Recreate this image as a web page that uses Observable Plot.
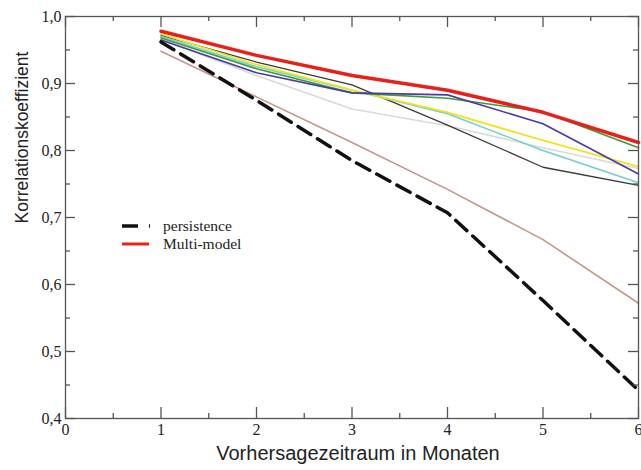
<!DOCTYPE html>
<html>
<head>
<meta charset="utf-8">
<script src="https://cdn.jsdelivr.net/npm/d3@7"></script>
<script src="https://cdn.jsdelivr.net/npm/@observablehq/plot@0.6"></script>
<style>
  html, body { margin: 0; padding: 0; background: #fff; }
  #wrap { position: relative; width: 641px; height: 470px; }
  #legend { position: absolute; left: 122px; top: 217px; font-family: "Liberation Serif", serif; font-size: 15.5px; color: #222; }
  #legend .row { display: flex; align-items: center; height: 18px; }
  #legend svg { margin-right: 13px; }
</style>
</head>
<body>
<div id="wrap"><div id="legend"></div></div>
<script>
const months = [1, 2, 3, 4, 5, 6];
const persistence = [0.962, 0.875, 0.785, 0.707, 0.576, 0.442];
const multiModel  = [0.978, 0.942, 0.912, 0.890, 0.857, 0.812];
const brownModel  = [0.948, 0.880, 0.812, 0.742, 0.667, 0.572];
const lightGrayModel = [0.966, 0.912, 0.862, 0.837, 0.804, 0.773];
const darkGrayModel  = [0.972, 0.932, 0.898, 0.838, 0.775, 0.748];
const blueModel   = [0.965, 0.916, 0.886, 0.883, 0.840, 0.765];
const greenModel  = [0.968, 0.922, 0.886, 0.878, 0.858, 0.804];
const yellowModel = [0.974, 0.928, 0.890, 0.857, 0.815, 0.776];
const cyanModel   = [0.970, 0.925, 0.890, 0.855, 0.800, 0.752];

const xMajor = [0, 1, 2, 3, 4, 5, 6];
const xMinor = [0.5, 1.5, 2.5, 3.5, 4.5, 5.5];
const yMajor = [0.4, 0.5, 0.6, 0.7, 0.8, 0.9, 1.0];
const yMinor = [0.45, 0.55, 0.65, 0.75, 0.85, 0.95];
const legendLabels = ["persistence", "Multi-model"];

const W = 641, H = 470;
const mt = 16, mr = 3, mb = 52, ml = 65;
const innerW = W - ml - mr, innerH = H - mt - mb;
const fmt = d => d.toFixed(1).replace(".", ",");
const pts = arr => months.map((m, i) => ({x: m, y: arr[i]}));

const series = [
  {v: lightGrayModel, c: "#d9d9d9", w: 1.6},
  {v: brownModel, c: "#c4958d", w: 1.6},
  {v: darkGrayModel, c: "#3a3a3a", w: 1.3},
  {v: cyanModel, c: "#72cfd0", w: 1.6},
  {v: yellowModel, c: "#f2e21c", w: 1.8},
  {v: greenModel, c: "#3d9c36", w: 1.6},
  {v: blueModel, c: "#4a3aa8", w: 1.6},
];

const tickStroke = "#555";
const plot = Plot.plot({
  width: W, height: H,
  marginTop: mt, marginRight: mr, marginBottom: mb, marginLeft: ml,
  x: {domain: [0, 6]},
  y: {domain: [0.4, 1.0]},
  style: {fontFamily: "'Liberation Serif', serif", fontSize: "16px", color: "#222", background: "#fff"},
  marks: [
    ...series.map(s => Plot.line(pts(s.v), {x: "x", y: "y", stroke: s.c, strokeWidth: s.w})),
    Plot.line(pts(multiModel), {x: "x", y: "y", stroke: "#e8201a", strokeWidth: 3.5}),
    Plot.line(pts(persistence), {x: "x", y: "y", stroke: "#111", strokeWidth: 3.5, strokeDasharray: "15,8"}),
    Plot.frame({stroke: tickStroke, strokeWidth: 1.3}),
    Plot.tickY(yMajor, {insetRight: innerW - 10, stroke: tickStroke, strokeWidth: 1.3}),
    Plot.tickY(yMinor, {insetRight: innerW - 5, stroke: tickStroke, strokeWidth: 1.3}),
    Plot.tickY(yMajor, {insetLeft: innerW - 10, stroke: tickStroke, strokeWidth: 1.3}),
    Plot.tickY(yMinor, {insetLeft: innerW - 5, stroke: tickStroke, strokeWidth: 1.3}),
    Plot.tickX(xMajor, {insetTop: innerH - 11, stroke: tickStroke, strokeWidth: 1.3}),
    Plot.tickX(xMinor, {insetTop: innerH - 5, stroke: tickStroke, strokeWidth: 1.3}),
    Plot.tickX(xMajor, {insetBottom: innerH - 11, stroke: tickStroke, strokeWidth: 1.3}),
    Plot.tickX(xMinor, {insetBottom: innerH - 5, stroke: tickStroke, strokeWidth: 1.3}),
    Plot.axisY(yMajor, {tickSize: 0, tickPadding: 4, tickFormat: fmt, label: null}),
    Plot.axisX(xMajor, {tickSize: 0, tickPadding: 5, tickFormat: d => String(d), label: null}),
    Plot.text(["Korrelationskoeffizient"], {frameAnchor: "left", dx: -43, dy: 6, rotate: -90, fontFamily: "'Liberation Sans', Arial, sans-serif", fontSize: 17.5, fill: "#222"}),
    Plot.text(["Vorhersagezeitraum in Monaten"], {frameAnchor: "bottom", dx: 6, dy: 41, fontFamily: "'Liberation Sans', Arial, sans-serif", fontSize: 20, fill: "#222"})
  ]
});
const wrap = document.getElementById("wrap");
wrap.insertBefore(plot, wrap.firstChild);

const legend = document.getElementById("legend");
const swatches = [
  `<svg width="28" height="10"><line x1="0" y1="5" x2="28" y2="5" stroke="#111" stroke-width="3.5" stroke-dasharray="16,11"/></svg>`,
  `<svg width="28" height="10"><line x1="0" y1="5" x2="27" y2="5" stroke="#e8201a" stroke-width="3"/></svg>`
];
legend.innerHTML = legendLabels.map((l, i) => `<div class="row">${swatches[i]}<span>${l}</span></div>`).join("");
</script>
</body>
</html>
